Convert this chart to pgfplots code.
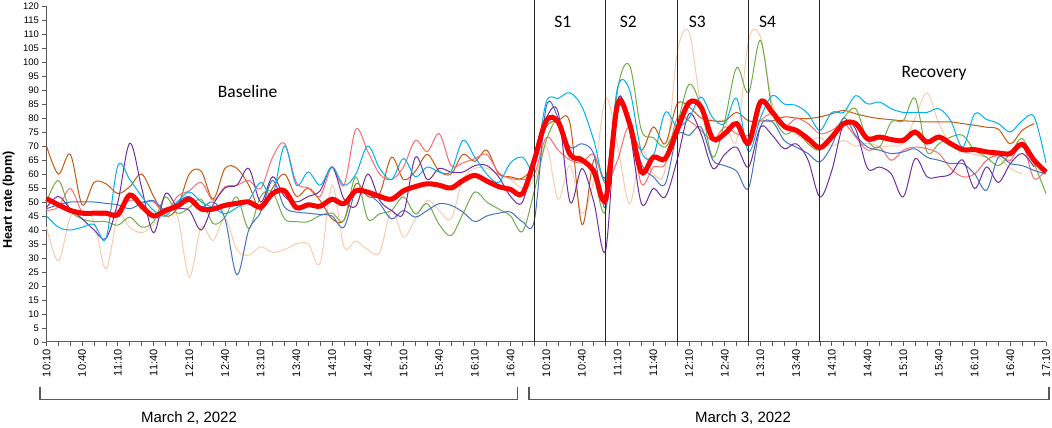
\documentclass[border=0pt]{standalone}
\usepackage{fontspec}
\setmainfont{Liberation Sans}
\newfontfamily\calibri{Carlito}
\usepackage{pgfplots}
\usepackage{pgfplotstable}
\pgfplotsset{compat=1.18}
\definecolor{cOr}{HTML}{C55A11}
\definecolor{cPu}{HTML}{7030A0}
\definecolor{cGr}{HTML}{70AD47}
\definecolor{cCy}{HTML}{00B0F0}
\definecolor{cBl}{HTML}{4472C4}
\definecolor{cPk}{HTML}{FF6B6B}
\definecolor{cPe}{HTML}{F8CBAD}
\definecolor{cAx}{HTML}{595959}

\pgfplotstableread{
i O P G C B K A M
0 70 48 50 45 47.6 47 41 51.2
1 60 52 57.7 41 49 48.2 29 49
2 67 47.5 47 40 50 54.8 44.6 47
3 49 44 44 41 50 46.4 47 46
4 57 40 43 42 50 45.5 43 46
5 56.5 37 43 37 49.5 45.2 26 46
6 53 50 41.7 63 49 47 45 45.5
7 55.5 71 44.6 58 47.6 50.6 41 52.5
8 60 55 41 52 49.5 50 39 48.5
9 52 39 43 47 50.5 50 42 45
10 45 53 51.8 45 47 45.8 46 47
11 48 48 46 50 50 52 45 48.5
12 60 47 48 53.6 52 54 23.2 51
13 61 40 51 50 48.2 57 41 47.5
14 51 49 42.3 48 50 50.6 36.3 47.5
15 62 55 44.6 45.8 44 55.4 44 48.8
16 62 56 51.8 48 24 56 33 49.5
17 56 62 40.5 50.6 40 57.7 31 50
18 47 50 52 57 46.4 54.8 34 48.2
19 55 59 53.5 52.4 57.7 66 32 53
20 60 52 44 70 48.2 71 33 54
21 52 50 43 56 46.4 57 35 48
22 55 52 43 60.7 46 55 35 49
23 50.5 54 45.2 56 45.5 52 28.2 48.5
24 44 62.5 46 62.5 45 62.5 56 51
25 43.5 51 43.5 56 41 56 34 49.4
26 56.5 48.5 59 60 54 76 36 54
27 52 60 44 70 53 68 33 53.5
28 53 50.6 45.8 62 49.4 60 32 52
29 66 47 47 58 44 58 47 51
30 58 46 51.8 65.5 47 62.5 37.5 54
31 61 66 45.8 59 44.6 72 44 55.5
32 67 58 49.4 62.5 47 68 50.6 56.5
33 61 62 42 60.7 49.4 74.4 47 56
34 60 60.7 38 61 48.8 63 44 55
35 67 60.7 45.8 72 46.4 64 58 57.7
36 64.5 63 53.6 66 43 65.5 62 59.5
37 68.5 63 50 60 45 67 62 57.5
38 60 59 47.5 57 46 60.5 60 55.5
39 59 52 45 64 46.4 58.5 58 54.5
40 58.5 50 39.5 66 43 58 55 53
41 63.7 67 54 62.5 43.5 60 58 65
42 76.8 80 72 85.7 84 73 70 79
43 79 82 79 87 80 68.5 51 78.6
44 78 50 67 89 69.6 65 63 67
45 42 62 66 84 70.8 64 46 65
46 65 50 59 72 67 67 58 61
47 59 33 47 58 48.2 56.5 87 51
48 85 86 90 91 86 65 70 85
49 78 75.6 98.8 90 80 76.8 49.4 78
50 68.5 49.4 75.6 68 63.7 56.5 68.5 60.7
51 76.8 54.8 73 66.7 59 62.5 60 66
52 70.8 51.8 69.6 82 56.5 63.7 62 65.5
53 85 65 78 76.8 73.8 80 103 75.6
54 84 81.5 92 80 73.8 79 110.7 85.5
55 80 74.4 84 87.5 76.8 75.6 85 84
56 79 62 66 80 65 72 79 72.6
57 79 67 79 78 63 76.8 79 74.4
58 82 69.6 98 87 61 74.4 72 78
59 79 62.5 89 68 55 73.8 107.7 71
60 79 76.8 107.7 80 76.8 79 109 85.7
61 79 73.8 82.7 88 78.6 81.5 85 82
62 80.4 69 74.4 85 72 76.8 78 77
63 80 70.8 75.6 84.5 69.6 79.8 74 75.6
64 79.8 65 70.8 81.5 67.3 78 72 72.6
65 80.4 51.8 68.5 75.6 64.3 74.4 73 69.4
66 81.5 61.3 73.8 82 70.2 75.6 70 73.2
67 82.7 78 80 82 80 78 72 78
68 81.5 76 83.3 88 73.8 73.2 70 78
69 80.5 62 72 85 69.6 68.5 71 72.6
70 79.8 62.5 69.6 85.7 68.5 69.6 70 73.2
71 79.4 60 78.6 83.3 67.3 64.9 70 72.3
72 79 51.8 79 82 67.9 68.5 71 72
73 78.8 65.5 87 82 69 69.6 80 75
74 78.6 59 67.9 82 66 69 89 71.4
75 78.6 59 70.8 83.3 64.9 67.3 78 73.2
76 78.6 60 73.2 79 63.7 62 70.8 70.8
77 78 65 73.8 69.6 63.7 59 68 68.7
78 77.4 54.8 68.5 81.5 60 60 67 68.7
79 76.7 62.5 66 79.5 54.2 64.9 66 67.9
80 76 57 63 78 66 66.7 66 67.5
81 70.8 63.7 67.3 75 63.7 64.9 62 67.3
82 75.6 67.3 72.6 79 63 70.8 60 70.6
83 78 62.5 63.7 80.4 61.3 58.3 nan 64.9
84 nan nan 53 64 60 62 nan 60.7
}\hrdata

\begin{document}
\begin{tikzpicture}
\useasboundingbox (0,0) rectangle (1052pt,428pt);
\begin{axis}[
  at={(46.5pt,86pt)}, anchor=south west,
  scale only axis, width=999.5pt, height=336pt,
  xmin=0, xmax=84, ymin=0, ymax=120,
  axis x line*=bottom, axis y line*=left,
  axis line style={cAx, line width=1pt},
  every tick/.style={cAx, line width=0.8pt},
  tick align=outside, major tick length=4pt, minor tick length=4pt,
  ytick={0,5,...,120},
  xtick={0,3,...,39,42,45,...,84},
  xticklabels={10:10,10:40,11:10,11:40,12:10,12:40,13:10,13:40,14:10,14:40,15:10,15:40,16:10,16:40,
               10:10,10:40,11:10,11:40,12:10,12:40,13:10,13:40,14:10,14:40,15:10,15:40,16:10,16:40,17:10},
  minor xtick={0,...,84},
  /pgf/number format/assume math mode=true,
  yticklabel style={font=\fontsize{9.5}{10}\selectfont},
  xticklabel style={font=\fontsize{11}{12}\selectfont, rotate=90, anchor=east},
  ylabel={Heart rate (bpm)},
  ylabel style={font=\bfseries\fontsize{12.6}{14}\selectfont, at={(axis description cs:-0.038,0.423)}, anchor=center},
  clip=false,
  unbounded coords=jump,
  every axis plot/.append style={smooth, tension=0.55, line width=1pt, mark=none},
]
\addplot[cPe] table[x=i,y=A]{\hrdata};
\addplot[cOr] table[x=i,y=O]{\hrdata};
\addplot[cPk] table[x=i,y=K]{\hrdata};
\addplot[cGr] table[x=i,y=G]{\hrdata};
\addplot[cBl] table[x=i,y=B]{\hrdata};
\addplot[cPu] table[x=i,y=P]{\hrdata};
\addplot[cCy] table[x=i,y=C]{\hrdata};
\draw[black!85, line width=0.9pt] (axis cs:41,0) -- (axis cs:41,122.3);
\draw[black!85, line width=0.9pt] (axis cs:47,0) -- (axis cs:47,122.3);
\draw[black!85, line width=0.9pt] (axis cs:53,0) -- (axis cs:53,122.3);
\draw[black!85, line width=0.9pt] (axis cs:59,0) -- (axis cs:59,122.3);
\draw[black!85, line width=0.9pt] (axis cs:65,0) -- (axis cs:65,122.3);
\addplot[red, line width=5pt] table[x=i,y=M]{\hrdata};
\node[font=\calibri\fontsize{17.5}{20}\selectfont] at (axis cs:16.9,89.5) {Baseline};
\node[font=\calibri\fontsize{17.5}{20}\selectfont] at (axis cs:43.4,114.3) {S1};
\node[font=\calibri\fontsize{17.5}{20}\selectfont] at (axis cs:48.9,114.3) {S2};
\node[font=\calibri\fontsize{17.5}{20}\selectfont] at (axis cs:54.7,114.3) {S3};
\node[font=\calibri\fontsize{17.5}{20}\selectfont] at (axis cs:60.6,114.3) {S4};
\node[font=\calibri\fontsize{17.5}{20}\selectfont] at (axis cs:74.6,95.9) {Recovery};
\end{axis}
\draw[cAx, line width=1.2pt] (40pt,41pt) -- (40pt,28.5pt) -- (517.6pt,28.5pt) -- (517.6pt,41pt);
\draw[cAx, line width=1.2pt] (529pt,41pt) -- (529pt,28.5pt) -- (1049pt,28.5pt) -- (1049pt,41pt);
\node[font=\fontsize{15}{17}\selectfont] at (189pt,9.5pt) {March 2, 2022};
\node[font=\fontsize{15}{17}\selectfont] at (743pt,9.5pt) {March 3, 2022};
\end{tikzpicture}
\end{document}
